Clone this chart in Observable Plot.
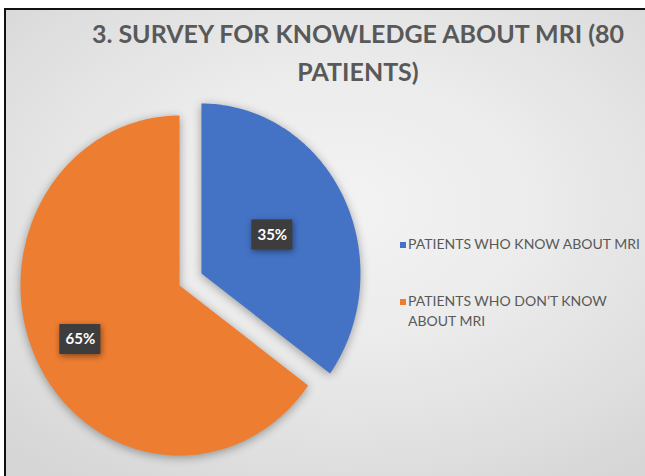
<!DOCTYPE html>
<html><head><meta charset="utf-8">
<script src="https://cdn.jsdelivr.net/npm/d3@7"></script>
<script src="https://cdn.jsdelivr.net/npm/@observablehq/plot@0.6"></script>
<style>
html,body{margin:0;padding:0;background:#fff;}
#page{position:relative;width:645px;height:476px;overflow:hidden;font-family:Lato,"Open Sans",sans-serif;}
#frame{position:absolute;left:4px;top:8px;width:643px;height:470px;box-sizing:border-box;border-left:2px solid #111;border-top:2px solid #111;
  background:radial-gradient(ellipse 75% 70% at 52% 42%, #f3f3f3 0%, #ececec 40%, #e0e0e0 75%, #d6d6d6 100%);}
#chart{position:absolute;left:0;top:0;}
#title{position:absolute;left:68px;width:580px;top:14px;text-align:center;font-weight:700;font-size:25px;line-height:38px;color:#595959;}
#legend{position:absolute;left:400px;top:234px;font-size:14px;line-height:20px;color:#595959;}
.item{display:flex;align-items:flex-start;margin-bottom:37px;}
.sw{width:6px;height:6px;margin-top:8px;margin-right:2px;flex:none;}
.txt{width:232px;}
.pie g[aria-label="line"]{filter:drop-shadow(0 2px 5px rgba(0,0,0,0.35));}
.pie g[aria-label="rect"]{filter:drop-shadow(1px 2px 3px rgba(0,0,0,0.45));}
</style>
</head><body>
<div id="page">
  <div id="frame"></div>
  <div id="chart"></div>
  <div id="title"></div>
  <div id="legend"></div>
</div>
<script>
const titleText = "3. SURVEY FOR KNOWLEDGE ABOUT MRI (80 PATIENTS)";
const categories = ["PATIENTS WHO KNOW ABOUT MRI", "PATIENTS WHO DON\u2019T KNOW ABOUT MRI"];
const percents = [35, 65];
const colors = ["#4472C4", "#ED7D31"];
const explode = [0.155, 0];
const labelRadius = [0.5, 0.7];

const arcs = d3.pie().sort(null).value(d => d)(percents);
const pts = [];
const labels = [];
arcs.forEach((a, i) => {
  const mid = (a.startAngle + a.endAngle) / 2;
  const ox = explode[i] * Math.sin(mid), oy = explode[i] * Math.cos(mid);
  pts.push({cat: categories[i], x: ox, y: oy});
  const n = 160;
  for (let j = 0; j <= n; j++) {
    const t = a.startAngle + (a.endAngle - a.startAngle) * j / n;
    pts.push({cat: categories[i], x: ox + Math.sin(t), y: oy + Math.cos(t)});
  }
  pts.push({cat: categories[i], x: ox, y: oy});
  labels.push({x: ox + labelRadius[i] * Math.sin(mid), y: oy + labelRadius[i] * Math.cos(mid), text: percents[i] + "%"});
});

const W = 645, H = 476, cx = 179, cy = 285, rx = 159, ry = 170;
const plot = Plot.plot({
  width: W, height: H, margin: 0, className: "pie",
  style: {background: "transparent", overflow: "visible"},
  x: {domain: [-cx / rx, (W - cx) / rx], axis: null},
  y: {domain: [-(H - cy) / ry, cy / ry], axis: null},
  color: {domain: categories, range: colors},
  marks: [
    Plot.line(pts, {x: "x", y: "y", z: "cat", fill: "cat", stroke: null}),
    Plot.rect(labels, {x1: "x", x2: "x", y1: "y", y2: "y", fill: "#3d3d3d", insetLeft: -20.5, insetRight: -20.5, insetTop: -15, insetBottom: -15}),
    Plot.text(labels, {x: "x", y: "y", text: "text", fill: "white", fontWeight: "bold", fontSize: 15, fontFamily: "Lato, sans-serif"})
  ]
});
document.getElementById("chart").appendChild(plot);
document.getElementById("title").textContent = titleText;
const lg = document.getElementById("legend");
categories.forEach((c, i) => {
  const it = document.createElement("div"); it.className = "item";
  const sw = document.createElement("span"); sw.className = "sw"; sw.style.background = colors[i];
  const tx = document.createElement("span"); tx.className = "txt"; tx.textContent = c;
  it.appendChild(sw); it.appendChild(tx); lg.appendChild(it);
});
</script>
</body></html>
